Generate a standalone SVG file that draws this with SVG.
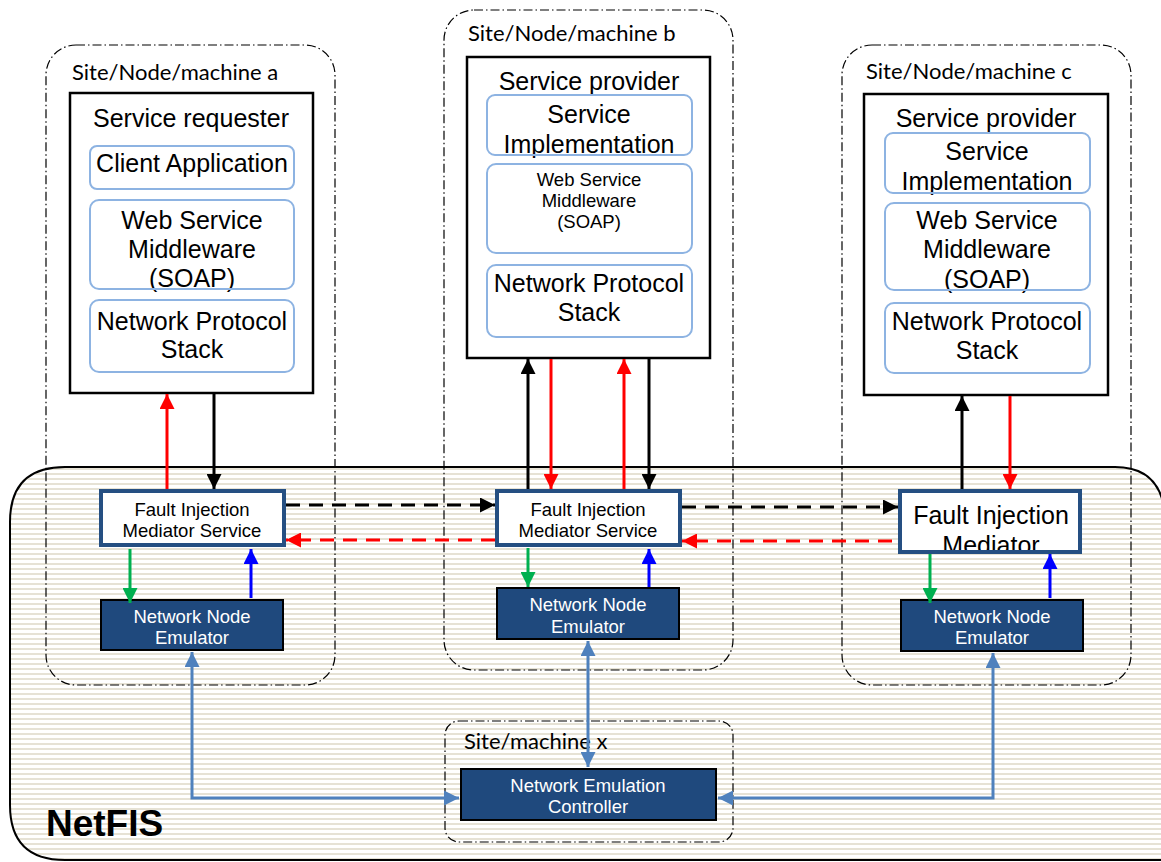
<svg xmlns="http://www.w3.org/2000/svg" width="1161" height="862" viewBox="0 0 1161 862">
<defs>
<pattern id="stripes" width="10" height="5" patternUnits="userSpaceOnUse">
<rect width="10" height="5" fill="#ffffff"/>
<rect y="3" width="10" height="2" fill="#e6e2d5"/>
</pattern>
<marker id="ak" viewBox="0 0 10 10" refX="10" refY="5" markerWidth="5" markerHeight="5" orient="auto" markerUnits="strokeWidth"><path d="M0,0 L10,5 L0,10 z" fill="#000"/></marker>
<marker id="ar" viewBox="0 0 10 10" refX="10" refY="5" markerWidth="5" markerHeight="5" orient="auto" markerUnits="strokeWidth"><path d="M0,0 L10,5 L0,10 z" fill="#ff0000"/></marker>
<marker id="ag" viewBox="0 0 10 10" refX="10" refY="5" markerWidth="5" markerHeight="5" orient="auto" markerUnits="strokeWidth"><path d="M0,0 L10,5 L0,10 z" fill="#00b050"/></marker>
<marker id="ab" viewBox="0 0 10 10" refX="10" refY="5" markerWidth="5" markerHeight="5" orient="auto" markerUnits="strokeWidth"><path d="M0,0 L10,5 L0,10 z" fill="#0000ff"/></marker>
<marker id="al" viewBox="0 0 10 10" refX="10" refY="5" markerWidth="5" markerHeight="5" orient="auto" markerUnits="strokeWidth"><path d="M0,0 L10,5 L0,10 z" fill="#4f81bd"/></marker>
<marker id="als" viewBox="0 0 10 10" refX="0" refY="5" markerWidth="5" markerHeight="5" orient="auto" markerUnits="strokeWidth"><path d="M10,0 L0,5 L10,10 z" fill="#4f81bd"/></marker>
</defs>
<style>
.site{fill:none;stroke:#000;stroke-width:1.2;stroke-dasharray:9 3 1.5 3}
.sitelbl{font-family:Lato,"Open Sans",sans-serif;font-size:22px;fill:#000}
.host{fill:#fff;stroke:#000;stroke-width:2.5}
.layer{fill:#fff;stroke:#8db3e2;stroke-width:2}
.lfill{fill:#fff;stroke:none}
.lline{fill:none;stroke:#8db3e2;stroke-width:2}
.t22{font-family:"Liberation Sans",Arial,sans-serif;font-size:25px;fill:#000;text-anchor:middle}
.t15{font-family:"Liberation Sans",Arial,sans-serif;font-size:18.5px;fill:#000;text-anchor:middle}
.tw{font-family:"Liberation Sans",Arial,sans-serif;font-size:18.5px;fill:#fff;text-anchor:middle}
.fim{fill:#fff;stroke:#254f82;stroke-width:4}
.ffill{fill:#fff;stroke:none}
.fline{fill:none;stroke:#254f82;stroke-width:4}
.nne{fill:#1f497d;stroke:#000;stroke-width:2}
.k{stroke:#000;stroke-width:3;fill:none}
.r{stroke:#ff0000;stroke-width:3;fill:none}
.g{stroke:#00b050;stroke-width:3;fill:none}
.b{stroke:#0000ff;stroke-width:3;fill:none}
.l{stroke:#4f81bd;stroke-width:3;fill:none}
.dash{stroke-dasharray:14 9}
</style>
<rect width="1161" height="862" fill="#fff"/>

<g id="netfis">
<path d="M1165,515 Q1161,467 1115,467 L65,467 Q10,467 10,522 L10,805 Q10,860 65,860 L1165,860" fill="url(#stripes)" stroke="#000" stroke-width="2"/>
<text x="46" y="836" font-family="'Liberation Sans',Arial,sans-serif" font-size="37" font-weight="bold" fill="#000">NetFIS</text>
</g>

<g id="site-a">
<rect class="site" x="46" y="45" width="289" height="640" rx="30"/>
<text class="sitelbl" x="72" y="80">Site/Node/machine a</text>
</g>
<g id="site-b">
<rect class="site" x="444" y="10" width="289" height="660" rx="30"/>
<text class="sitelbl" x="468" y="41">Site/Node/machine b</text>
</g>
<g id="site-c">
<rect class="site" x="842" y="45" width="289" height="640" rx="30"/>
<text class="sitelbl" x="866" y="79">Site/Node/machine c</text>
</g>
<g id="site-x">
<rect class="site" x="445" y="721" width="288" height="121" rx="14"/>
<text class="sitelbl" x="464" y="749">Site/machine x</text>
</g>

<g id="requester-a">
<rect class="host" x="70" y="93" width="243" height="300"/>
<text class="t22" x="191" y="127">Service requester</text>
<rect class="layer" x="90" y="146" width="204" height="43" rx="7"/>
<text class="t22" x="192" y="172">Client Application</text>
<rect class="lfill" x="90" y="200" width="204" height="89" rx="9"/>
<text class="t22" x="192" y="229">Web Service</text>
<text class="t22" x="192" y="258">Middleware</text>
<text class="t22" x="192" y="287">(SOAP)</text>
<rect class="lline" x="90" y="200" width="204" height="89" rx="9"/>
<rect class="layer" x="90" y="300" width="204" height="72" rx="9"/>
<text class="t22" x="192" y="330">Network Protocol</text>
<text class="t22" x="192" y="358">Stack</text>
</g>

<g id="provider-b">
<rect class="host" x="467" y="57" width="243" height="301"/>
<text class="t22" x="589" y="90">Service provider</text>
<rect class="lfill" x="487" y="95" width="205" height="60" rx="8"/>
<text class="t22" x="589" y="123">Service</text>
<text class="t22" x="589" y="153">Implementation</text>
<rect class="lline" x="487" y="95" width="205" height="60" rx="8"/>
<rect class="layer" x="487" y="164" width="205" height="89" rx="9"/>
<text class="t15" x="589" y="186">Web Service</text>
<text class="t15" x="589" y="207">Middleware</text>
<text class="t15" x="589" y="228">(SOAP)</text>
<rect class="layer" x="487" y="265" width="205" height="72" rx="9"/>
<text class="t22" x="589" y="292">Network Protocol</text>
<text class="t22" x="589" y="321">Stack</text>
</g>

<g id="provider-c">
<rect class="host" x="864" y="94" width="244" height="301"/>
<text class="t22" x="986" y="127">Service provider</text>
<rect class="lfill" x="885" y="133" width="205" height="60" rx="8"/>
<text class="t22" x="987" y="160">Service</text>
<text class="t22" x="987" y="190">Implementation</text>
<rect class="lline" x="885" y="133" width="205" height="60" rx="8"/>
<rect class="lfill" x="885" y="203" width="205" height="87" rx="9"/>
<text class="t22" x="987" y="229">Web Service</text>
<text class="t22" x="987" y="258">Middleware</text>
<text class="t22" x="987" y="288">(SOAP)</text>
<rect class="lline" x="885" y="203" width="205" height="87" rx="9"/>
<rect class="layer" x="885" y="303" width="205" height="70" rx="9"/>
<text class="t22" x="987" y="330">Network Protocol</text>
<text class="t22" x="987" y="359">Stack</text>
</g>

<g id="fim-a">
<rect class="fim" x="101" y="491" width="183" height="54"/>
<text class="t15" x="192" y="516">Fault Injection</text>
<text class="t15" x="192" y="537">Mediator Service</text>
</g>
<g id="fim-b">
<rect class="fim" x="497" y="491" width="183" height="54"/>
<text class="t15" x="588" y="516">Fault Injection</text>
<text class="t15" x="588" y="537">Mediator Service</text>
</g>
<g id="fim-c">
<rect class="ffill" x="900" y="491" width="180" height="61"/>
<text class="t22" x="991" y="524">Fault Injection</text>
<text class="t22" x="991" y="554">Mediator</text>
<rect class="fline" x="900" y="491" width="180" height="61"/>
</g>

<g id="nne-a">
<rect class="nne" x="101" y="600" width="182" height="50"/>
<text class="tw" x="192" y="623">Network Node</text>
<text class="tw" x="192" y="644">Emulator</text>
</g>
<g id="nne-b">
<rect class="nne" x="497" y="588" width="182" height="51"/>
<text class="tw" x="588" y="611">Network Node</text>
<text class="tw" x="588" y="633">Emulator</text>
</g>
<g id="nne-c">
<rect class="nne" x="901" y="600" width="182" height="51"/>
<text class="tw" x="992" y="623">Network Node</text>
<text class="tw" x="992" y="644">Emulator</text>
</g>
<g id="nec">
<rect class="nne" x="461" y="769" width="255" height="51"/>
<text class="tw" x="588" y="792">Network Emulation</text>
<text class="tw" x="588" y="813">Controller</text>
</g>

<g id="connectors">
<line class="r" x1="167" y1="489" x2="167" y2="394" marker-end="url(#ar)"/>
<line class="k" x1="214" y1="394" x2="214" y2="489" marker-end="url(#ak)"/>
<line class="k" x1="528" y1="489" x2="528" y2="359" marker-end="url(#ak)"/>
<line class="r" x1="551" y1="359" x2="551" y2="489" marker-end="url(#ar)"/>
<line class="r" x1="624" y1="489" x2="624" y2="359" marker-end="url(#ar)"/>
<line class="k" x1="649" y1="359" x2="649" y2="489" marker-end="url(#ak)"/>
<line class="k" x1="962" y1="489" x2="962" y2="396" marker-end="url(#ak)"/>
<line class="r" x1="1010" y1="396" x2="1010" y2="489" marker-end="url(#ar)"/>

<line class="k dash" x1="286" y1="505" x2="495" y2="505" marker-end="url(#ak)"/>
<line class="k dash" x1="682" y1="507" x2="898" y2="507" marker-end="url(#ak)"/>
<line class="r dash" x1="495" y1="540" x2="286" y2="540" marker-end="url(#ar)"/>
<line class="r dash" x1="892" y1="541" x2="682" y2="541" marker-end="url(#ar)"/>

<line class="g" x1="130" y1="549" x2="130" y2="603" marker-end="url(#ag)"/>
<line class="b" x1="251" y1="598" x2="251" y2="549" marker-end="url(#ab)"/>
<line class="g" x1="528" y1="548" x2="528" y2="587" marker-end="url(#ag)"/>
<line class="b" x1="649" y1="587" x2="649" y2="549" marker-end="url(#ab)"/>
<line class="g" x1="930" y1="554" x2="930" y2="603" marker-end="url(#ag)"/>
<line class="b" x1="1050" y1="598" x2="1050" y2="554" marker-end="url(#ab)"/>

<path class="l" d="M192,652 L192,798 L459,798" marker-start="url(#als)" marker-end="url(#al)"/>
<path class="l" d="M588,641 L588,767" marker-start="url(#als)" marker-end="url(#al)"/>
<path class="l" d="M993,653 L993,798 L718,798" marker-start="url(#als)" marker-end="url(#al)"/>
</g>
</svg>
